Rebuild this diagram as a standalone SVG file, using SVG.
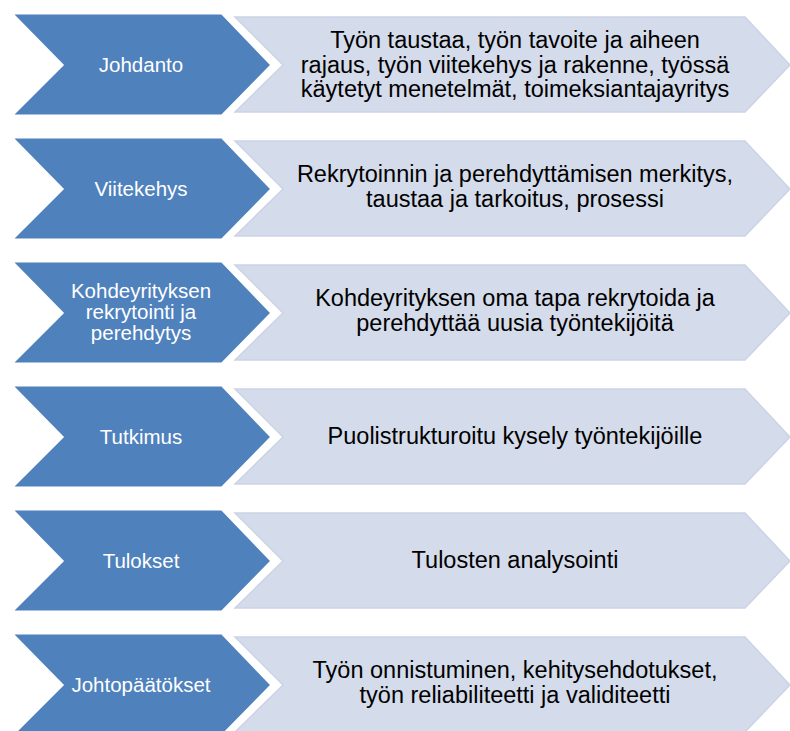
<svg xmlns="http://www.w3.org/2000/svg" width="790" height="731" viewBox="0 0 790 731">
<style>
.dark{fill:#4f81bd;stroke:#ffffff;stroke-width:3;stroke-linejoin:miter}
.light{fill:#d4dbea;stroke:#cbd3e5;stroke-width:1.5}
.dt{font-family:"Liberation Sans",Arial,sans-serif;font-size:20.5px;fill:#ffffff;text-anchor:middle}
.lt{font-family:"Liberation Sans",Arial,sans-serif;font-size:23.5px;fill:#000000;text-anchor:middle}
</style>
<rect width="790" height="731" fill="#ffffff"/>
<g id="connectors"></g>
<g id="row1">
<polygon class="light" points="235,17 745,17 790,65 745,112 235,112 283,65"/>
<polygon class="dark" points="11,13 222,13 272,65 222,116 11,116 62,65"/>
<text class="dt" x="141" y="72">Johdanto</text>
<text class="lt" x="515"><tspan x="515" y="48">Työn taustaa, työn tavoite ja aiheen</tspan><tspan x="515" y="72.5">rajaus, työn viitekehys ja rakenne, työssä</tspan><tspan x="515" y="97">käytetyt menetelmät, toimeksiantajayritys</tspan></text>
</g>
<g id="row2">
<polygon class="light" points="235,141 745,141 790,189 745,236 235,236 283,189"/>
<polygon class="dark" points="11,137 222,137 272,189 222,240 11,240 62,189"/>
<text class="dt" x="141" y="196">Viitekehys</text>
<text class="lt" x="515"><tspan x="515" y="182">Rekrytoinnin ja perehdyttämisen merkitys,</tspan><tspan x="515" y="207">taustaa ja tarkoitus, prosessi</tspan></text>
</g>
<g id="row3">
<polygon class="light" points="235,265 745,265 790,313 745,360 235,360 283,313"/>
<polygon class="dark" points="11,261 222,261 272,313 222,364 11,364 62,313"/>
<text class="dt" x="141"><tspan x="141" y="298">Kohdeyrityksen</tspan><tspan x="141" y="319">rekrytointi ja</tspan><tspan x="141" y="340">perehdytys</tspan></text>
<text class="lt" x="515"><tspan x="515" y="306">Kohdeyrityksen oma tapa rekrytoida ja</tspan><tspan x="515" y="331">perehdyttää uusia työntekijöitä</tspan></text>
</g>
<g id="row4">
<polygon class="light" points="235,389 745,389 790,437 745,484 235,484 283,437"/>
<polygon class="dark" points="11,385 222,385 272,437 222,488 11,488 62,437"/>
<text class="dt" x="141" y="444">Tutkimus</text>
<text class="lt" x="515" y="444">Puolistrukturoitu kysely työntekijöille</text>
</g>
<g id="row5">
<polygon class="light" points="235,513 745,513 790,561 745,608 235,608 283,561"/>
<polygon class="dark" points="11,509 222,509 272,561 222,612 11,612 62,561"/>
<text class="dt" x="141" y="568">Tulokset</text>
<text class="lt" x="515" y="568">Tulosten analysointi</text>
</g>
<g id="row6">
<polygon class="light" points="235,637 745,637 790,685 745,732 235,732 283,685"/>
<polygon class="dark" points="11,633 222,633 272,685 222,736 11,736 62,685"/>
<text class="dt" x="141" y="692">Johtopäätökset</text>
<text class="lt" x="515"><tspan x="515" y="678">Työn onnistuminen, kehitysehdotukset,</tspan><tspan x="515" y="703">työn reliabiliteetti ja validiteetti</tspan></text>
</g>
</svg>
